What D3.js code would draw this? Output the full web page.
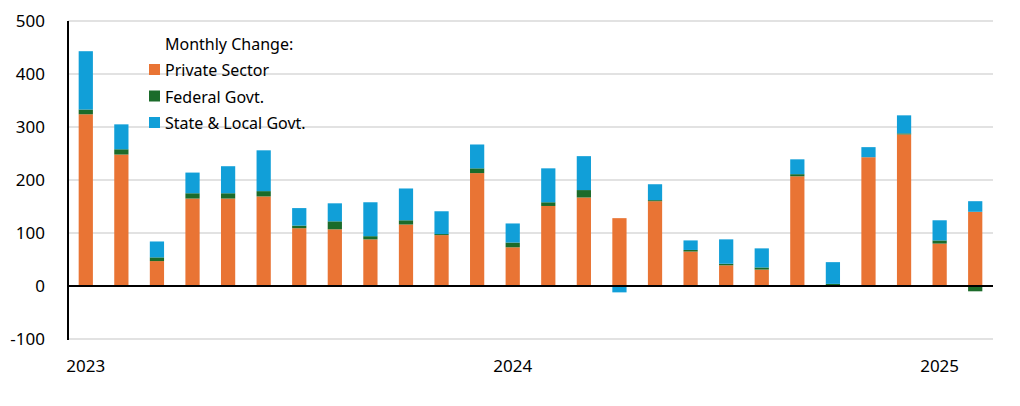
<!DOCTYPE html><html><head><meta charset="utf-8">
<script src="https://cdn.jsdelivr.net/npm/d3@7"></script>
<style>body{margin:0;background:#fff}text{font-family:"Noto Sans",sans-serif}</style></head><body>
<svg id="c" width="1020" height="406"></svg>
<script>
const months=d3.range(26).map(i=>i);
const privateSector=[324,248,47,165,165,169,109,107,88,116,96,213,73,151,167,128,160,65,39,31,207,0,243,286,80,140];
const federalGovt=[9,10,7,10,10,10,5,15,6,8,2,9,9,7,14,0,2,3,3,4,4,4,0,2,6,-10];
const stateLocalGovt=[110,47,30,39,51,77,33,34,64,60,43,45,36,64,64,-12,30,18,46,36,28,41,19,34,38,20];
const yTicks=[-100,0,100,200,300,400,500];
const xLabels=[{i:0,t:"2023"},{i:12,t:"2024"},{i:24,t:"2025"}];
const seriesNames=["Private Sector","Federal Govt.","State & Local Govt."];
const colors=["#E97434","#1B6B2A","#119FD8"];
const svg=d3.select("#c");
const x=d3.scaleBand().domain(months).range([68,993]).paddingInner(0.6).paddingOuter(0.3);
const y=d3.scaleLinear().domain([-100,500]).range([339,21]);
svg.append("g").selectAll("line").data(yTicks.filter(v=>v!==0)).join("line")
 .attr("x1",68).attr("x2",993).attr("y1",d=>y(d)).attr("y2",d=>y(d)).attr("stroke","#d9d9d9").attr("stroke-width",1.5);
const rows=months.map(i=>({i,p:privateSector[i],f:federalGovt[i],s:stateLocalGovt[i]}));
const stack=d3.stack().keys(["p","f","s"]).offset(d3.stackOffsetDiverging)(rows);
svg.append("g").selectAll("g").data(stack).join("g").attr("fill",(d,k)=>colors[k])
 .selectAll("rect").data(d=>d).join("rect")
 .attr("x",d=>x(d.data.i)).attr("width",x.bandwidth())
 .attr("y",d=>y(Math.max(d[0],d[1]))).attr("height",d=>Math.abs(y(d[0])-y(d[1])));
svg.append("line").attr("x1",68).attr("x2",993).attr("y1",y(0)).attr("y2",y(0)).attr("stroke","#000").attr("stroke-width",2);
svg.append("line").attr("x1",68).attr("x2",68).attr("y1",y(500)).attr("y2",y(-100)+1).attr("stroke","#000").attr("stroke-width",2);
svg.append("g").selectAll("text").data(yTicks).join("text")
 .attr("x",45).attr("y",d=>y(d)+6).attr("text-anchor","end").attr("font-size",17).attr("fill","#000").text(d=>d);
svg.append("g").selectAll("text").data(xLabels).join("text")
 .attr("x",d=>x(d.i)+x.bandwidth()/2).attr("y",372).attr("text-anchor","middle").attr("font-size",17).text(d=>d.t);
const lg=svg.append("g");
lg.append("text").attr("x",165).attr("y",50).attr("font-size",16).text("Monthly Change:");
seriesNames.forEach((n,k)=>{
 lg.append("rect").attr("x",149).attr("y",64+k*26.5).attr("width",11).attr("height",11).attr("fill",colors[k]);
 lg.append("text").attr("x",165).attr("y",76+k*26.5).attr("font-size",16).text(n);
});
</script></body></html>
